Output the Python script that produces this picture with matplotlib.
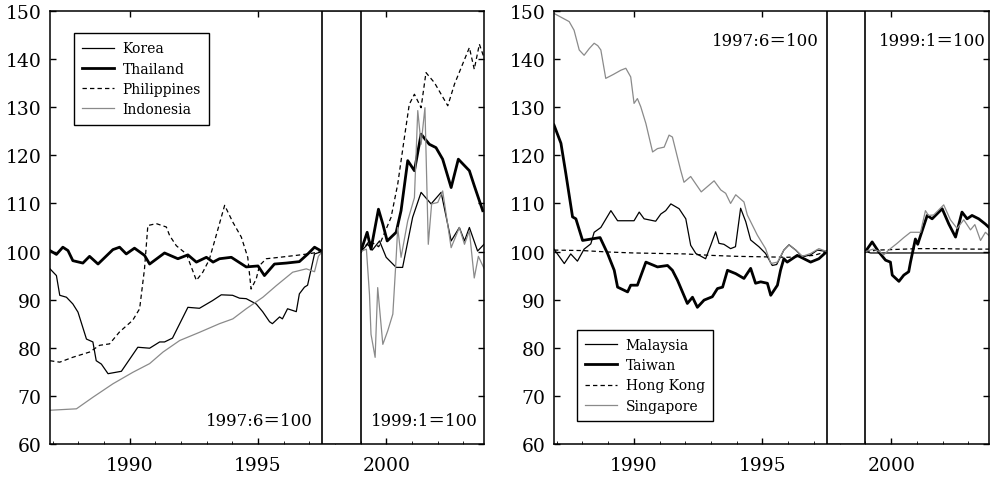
import numpy as np
import matplotlib
matplotlib.use("Agg")
import matplotlib.pyplot as plt
from matplotlib.ticker import MultipleLocator

plt.rcParams['font.family'] = ['DejaVu Serif', 'Noto Sans CJK JP']

# band between the two base periods
gap_start, gap_end = 1997.5, 1999.0

# ---- left panel: 1997:6=100 / 1999:1=100
korea_t1 = [1986.9, 1987.15, 1987.28, 1987.54, 1987.79, 1987.99, 1988.32, 1988.57, 1988.70, 1988.90,
            1989.16, 1989.68, 1990.32, 1990.78, 1991.17, 1991.36, 1991.67, 1992.27, 1992.72, 1993.23,
            1993.57, 1994.01, 1994.28, 1994.54, 1994.93, 1995.18, 1995.45, 1995.56, 1995.84, 1995.95,
            1996.15, 1996.49, 1996.61, 1996.81, 1996.93, 1997.20, 1997.5]
korea_v1 = [96.4, 95.0, 90.9, 90.5, 89.1, 87.4, 81.8, 81.2, 77.3, 76.6,
            74.6, 75.1, 80.1, 79.9, 81.2, 81.2, 82.0, 88.4, 88.2, 89.8,
            91.0, 90.9, 90.3, 90.2, 89.1, 87.5, 85.4, 85.0, 86.4, 86.0,
            88.1, 87.5, 91.2, 92.6, 93.0, 99.5, 100.0]
korea_t2 = [1999.0, 1999.27, 1999.45, 1999.73, 1999.99, 2000.38, 2000.63, 2001.02, 2001.35, 2001.74,
            2002.13, 2002.52, 2002.84, 2003.04, 2003.23, 2003.55, 2003.8]
korea_v2 = [100.0, 101.5, 100.3, 102.2, 98.8, 96.7, 96.7, 107.1, 112.3, 109.9,
            112.3, 102.2, 105.0, 102.2, 105.0, 100.1, 101.5]

thai_t1 = [1986.9, 1987.15, 1987.40, 1987.60, 1987.79, 1988.18, 1988.44, 1988.77, 1989.35, 1989.61,
           1989.87, 1990.19, 1990.58, 1990.78, 1991.36, 1991.88, 1992.27, 1992.60, 1992.99, 1993.25,
           1993.50, 1993.96, 1994.54, 1995.00, 1995.25, 1995.64, 1996.10, 1996.61, 1996.94, 1997.20, 1997.5]
thai_v1 = [100.2, 99.4, 100.9, 100.2, 98.1, 97.6, 99.0, 97.4, 100.4, 100.9,
           99.5, 100.7, 99.2, 97.4, 99.7, 98.5, 99.3, 97.8, 98.8, 97.8,
           98.5, 98.8, 96.8, 97.0, 95.0, 97.4, 97.6, 97.9, 99.5, 100.9, 100.0]
thai_t2 = [1999.0, 1999.25, 1999.40, 1999.69, 1999.86, 2000.03, 2000.38, 2000.57, 2000.83, 2001.09,
           2001.35, 2001.67, 2001.93, 2002.19, 2002.52, 2002.80, 2003.23, 2003.42, 2003.75]
thai_v2 = [100.0, 104.0, 100.5, 108.8, 105.7, 102.2, 104.0, 108.5, 118.9, 116.8,
           124.4, 122.3, 121.6, 119.2, 113.3, 119.2, 116.8, 113.7, 108.5]

phil_t1 = [1986.9, 1987.28, 1987.78, 1988.44, 1988.83, 1989.22, 1989.61, 1990.12, 1990.39, 1990.58,
           1990.71, 1991.04, 1991.43, 1991.56, 1991.82, 1992.21, 1992.60, 1992.85, 1993.10, 1993.30,
           1993.70, 1994.02, 1994.35, 1994.60, 1994.73, 1994.93, 1995.06, 1995.32, 1995.84, 1996.49,
           1996.94, 1997.5]
phil_v1 = [77.3, 77.0, 78.0, 79.1, 80.5, 80.8, 83.3, 85.7, 88.1, 96.4,
           105.4, 105.8, 105.1, 103.3, 101.2, 99.5, 94.0, 95.7, 98.3, 102.0,
           109.6, 106.1, 103.0, 98.8, 92.2, 94.3, 97.1, 98.5, 98.8, 99.2,
           99.5, 100.0]
phil_t2 = [1999.0, 1999.34, 1999.7, 2000.18, 2000.44, 2000.70, 2000.89, 2001.09, 2001.35, 2001.54,
           2001.87, 2002.39, 2002.65, 2002.97, 2003.23, 2003.42, 2003.62, 2003.8]
phil_v2 = [100.0, 102.2, 101.0, 107.1, 114.0, 123.7, 130.6, 132.7, 129.9, 137.2,
           135.1, 130.3, 134.8, 139.0, 142.4, 137.9, 143.1, 140.3]

indo_t1 = [1986.9, 1987.93, 1988.57, 1989.35, 1990.13, 1990.78, 1991.30, 1991.95, 1992.72, 1993.50,
           1994.02, 1994.54, 1995.19, 1995.71, 1996.35, 1996.88, 1997.20, 1997.35, 1997.5]
indo_v1 = [67.0, 67.3, 69.7, 72.5, 74.9, 76.7, 79.1, 81.5, 83.2, 85.0,
           86.0, 88.1, 90.5, 92.9, 95.7, 96.4, 95.8, 99.0, 100.0]
indo_t2 = [1999.0, 1999.22, 1999.34, 1999.40, 1999.56, 1999.66, 1999.86, 2000.05, 2000.25, 2000.38,
           2000.44, 2000.57, 2000.83, 2001.09, 2001.22, 2001.35, 2001.50, 2001.63, 2001.76, 2002.00,
           2002.19, 2002.52, 2002.84, 2003.04, 2003.23, 2003.42, 2003.58, 2003.8]
indo_v2 = [100.0, 100.5, 91.1, 82.8, 78.0, 92.5, 80.7, 83.5, 87.0, 98.8,
           105.0, 98.8, 106.4, 111.2, 129.3, 122.3, 129.9, 101.5, 109.9, 110.2,
           112.6, 100.8, 105.0, 101.5, 104.3, 94.5, 99.0, 96.5]

# ---- right panel
malay_t1 = [1986.9, 1987.30, 1987.55, 1987.81, 1988.07, 1988.33, 1988.46, 1988.72, 1989.11, 1989.37,
            1989.69, 1990.01, 1990.21, 1990.40, 1990.85, 1991.05, 1991.24, 1991.44, 1991.76, 1992.02,
            1992.21, 1992.41, 1992.79, 1992.99, 1993.18, 1993.31, 1993.50, 1993.76, 1993.95, 1994.15,
            1994.35, 1994.54, 1994.86, 1995.12, 1995.38, 1995.55, 1995.83, 1996.03, 1996.29, 1996.55,
            1996.87, 1997.13, 1997.5]
malay_v1 = [100.5, 97.5, 99.5, 98.0, 100.5, 101.6, 104.0, 105.0, 108.5, 106.4,
            106.4, 106.4, 108.2, 106.8, 106.3, 107.8, 108.5, 109.9, 108.9, 106.8,
            101.3, 99.6, 98.5, 101.3, 104.1, 101.7, 101.5, 100.6, 101.0, 109.0,
            106.2, 102.4, 101.0, 99.6, 97.1, 97.3, 100.3, 101.4, 100.3, 98.9,
            99.3, 100.3, 100.0]
malay_t2 = [1999.0, 1999.2, 2003.8]
malay_v2 = [100.0, 99.7, 99.7]

taiwan_t1 = [1986.9, 1987.17, 1987.36, 1987.62, 1987.75, 1988.01, 1988.46, 1988.69, 1988.98, 1989.24,
             1989.37, 1989.76, 1989.88, 1990.14, 1990.47, 1990.92, 1991.31, 1991.50, 1991.70, 1992.08,
             1992.28, 1992.47, 1992.73, 1993.05, 1993.25, 1993.45, 1993.64, 1993.96, 1994.28, 1994.54,
             1994.73, 1994.93, 1995.19, 1995.32, 1995.58, 1995.70, 1995.83, 1995.96, 1996.35, 1996.61,
             1996.87, 1997.19, 1997.5]
taiwan_v1 = [126.3, 122.5, 116.2, 107.2, 106.8, 102.3, 102.7, 102.9, 99.6, 96.1,
             92.6, 91.6, 93.0, 93.0, 97.8, 96.8, 97.1, 96.1, 94.0, 89.2,
             90.5, 88.4, 89.9, 90.6, 92.3, 92.6, 96.1, 95.4, 94.4, 96.5,
             93.4, 93.7, 93.4, 90.9, 93.0, 96.1, 98.5, 97.8, 99.2, 98.5,
             97.8, 98.5, 100.0]
taiwan_t2 = [1999.0, 1999.26, 1999.52, 1999.78, 1999.97, 2000.04, 2000.30, 2000.49, 2000.68, 2000.75,
             2000.94, 2001.03, 2001.14, 2001.40, 2001.59, 2001.85, 2001.98, 2002.24, 2002.50, 2002.75,
             2002.95, 2003.14, 2003.40, 2003.66, 2003.8]
taiwan_v2 = [100.0, 102.0, 99.9, 98.2, 97.8, 95.1, 93.8, 95.1, 95.8, 97.8,
             102.6, 101.5, 103.3, 107.5, 106.8, 108.2, 108.9, 105.7, 103.0, 108.2,
             106.8, 107.5, 106.8, 105.7, 105.0]

hk_t1 = [1986.9, 1988.0, 1989.0, 1990.0, 1991.0, 1992.0, 1993.0, 1994.0, 1995.0, 1996.0, 1997.0, 1997.5]
hk_v1 = [100.3, 100.2, 99.9, 99.7, 99.6, 99.5, 99.2, 99.0, 98.9, 98.8, 99.2, 100.0]
hk_t2 = [1999.0, 1999.5, 2000.0, 2000.5, 2001.0, 2002.0, 2003.0, 2003.8]
hk_v2 = [100.0, 100.3, 100.4, 100.5, 100.6, 100.6, 100.5, 100.5]

sing_t1 = [1986.9, 1987.49, 1987.68, 1987.88, 1988.07, 1988.27, 1988.46, 1988.60, 1988.72, 1988.91,
           1989.20, 1989.50, 1989.69, 1989.88, 1990.01, 1990.14, 1990.27, 1990.47, 1990.73, 1990.92,
           1991.18, 1991.37, 1991.50, 1991.63, 1991.82, 1991.95, 1992.21, 1992.62, 1993.12, 1993.38,
           1993.57, 1993.76, 1993.96, 1994.28, 1994.41, 1994.80, 1995.12, 1995.32, 1995.58, 1995.83,
           1996.03, 1996.29, 1996.55, 1996.87, 1997.19, 1997.5]
sing_v1 = [149.5, 147.8, 146.0, 141.9, 140.8, 142.2, 143.3, 142.8, 141.9, 136.0,
           136.8, 137.7, 138.1, 136.3, 130.8, 131.8, 130.1, 126.6, 120.7, 121.4,
           121.7, 124.2, 123.8, 121.0, 116.9, 114.4, 115.6, 112.4, 114.7, 112.8,
           112.1, 110.0, 111.8, 110.3, 107.6, 103.4, 100.6, 97.5, 97.8, 100.3,
           101.4, 100.3, 99.0, 99.6, 100.6, 100.0]
sing_t2 = [1999.0, 1999.30, 1999.55, 1999.71, 1999.9, 2000.23, 2000.49, 2000.75, 2001.14, 2001.33,
           2001.45, 2001.65, 2002.04, 2002.30, 2002.56, 2002.82, 2003.08, 2003.25, 2003.47, 2003.66, 2003.8]
sing_v2 = [100.0, 100.5, 100.0, 99.3, 100.3, 101.7, 102.9, 104.0, 104.0, 108.5,
           107.5, 107.6, 109.7, 106.6, 104.8, 106.6, 104.5, 105.6, 102.3, 104.0, 103.3]

thin = dict(color='black', lw=0.9)
thick = dict(color='black', lw=2.0)
dash = dict(color='black', lw=0.9, dashes=(3.5, 2.5))
grey = dict(color='#8a8a8a', lw=0.9)

left_series = [
    ('Korea', korea_t1, korea_v1, korea_t2, korea_v2, thin),
    ('Thailand', thai_t1, thai_v1, thai_t2, thai_v2, thick),
    ('Philippines', phil_t1, phil_v1, phil_t2, phil_v2, dash),
    ('Indonesia', indo_t1, indo_v1, indo_t2, indo_v2, grey),
]
right_series = [
    ('Malaysia', malay_t1, malay_v1, malay_t2, malay_v2, thin),
    ('Taiwan', taiwan_t1, taiwan_v1, taiwan_t2, taiwan_v2, thick),
    ('Hong Kong', hk_t1, hk_v1, hk_t2, hk_v2, dash),
    ('Singapore', sing_t1, sing_v1, sing_t2, sing_v2, grey),
]

fig = plt.figure(figsize=(9.9, 4.81), dpi=100)
ax1 = fig.add_axes([0.0505, 0.075, 0.4384, 0.9])
ax2 = fig.add_axes([0.5596, 0.075, 0.4394, 0.9])


def draw(ax, series):
    for name, t1, v1, t2, v2, st in series:
        t = np.concatenate([t1, [np.nan], t2])
        v = np.concatenate([v1, [np.nan], v2])
        ax.plot(t, v, label=name, **st)
    ax.axvspan(gap_start, gap_end, facecolor='white', edgecolor='black', lw=1.2, zorder=5)
    ax.set_xlim(1986.9, 2003.8)
    ax.set_ylim(60, 150)
    ax.set_xticks([1990, 1995, 2000])
    ax.xaxis.set_minor_locator(MultipleLocator(1))
    ax.yaxis.set_major_locator(MultipleLocator(10))
    ax.tick_params(which='major', direction='in', top=True, right=True, length=4,
                   width=1, labelsize=13.5, pad=6)
    ax.tick_params(axis='x', which='major', pad=9)
    ax.tick_params(which='minor', direction='in', top=False, bottom=True, length=2, width=0.6)
    for s in ax.spines.values():
        s.set_linewidth(1.1)


draw(ax1, left_series)
draw(ax2, right_series)

leg_kw = dict(fontsize=10, frameon=True, fancybox=False, framealpha=1, edgecolor='black',
              handlelength=2.3, handletextpad=0.6, borderpad=0.6, labelspacing=0.45,
              borderaxespad=0)
leg1 = ax1.legend(loc='upper left', bbox_to_anchor=(0.055, 0.949), **leg_kw)
leg2 = ax2.legend(loc='lower left', bbox_to_anchor=(0.053, 0.053), **leg_kw)
for leg in (leg1, leg2):
    leg.get_frame().set_linewidth(1.0)
    leg.set_zorder(6)

ax1.text(1997.12, 64.8, '1997:6＝100', ha='right', va='center', fontsize=12, zorder=7)
ax1.text(2003.55, 64.8, '1999:1＝100', ha='right', va='center', fontsize=12, zorder=7)
ax2.text(1997.18, 143.8, '1997:6＝100', ha='right', va='center', fontsize=12, zorder=7)
ax2.text(2003.66, 143.8, '1999:1＝100', ha='right', va='center', fontsize=12, zorder=7)

fig.savefig('out.png', dpi=100)
